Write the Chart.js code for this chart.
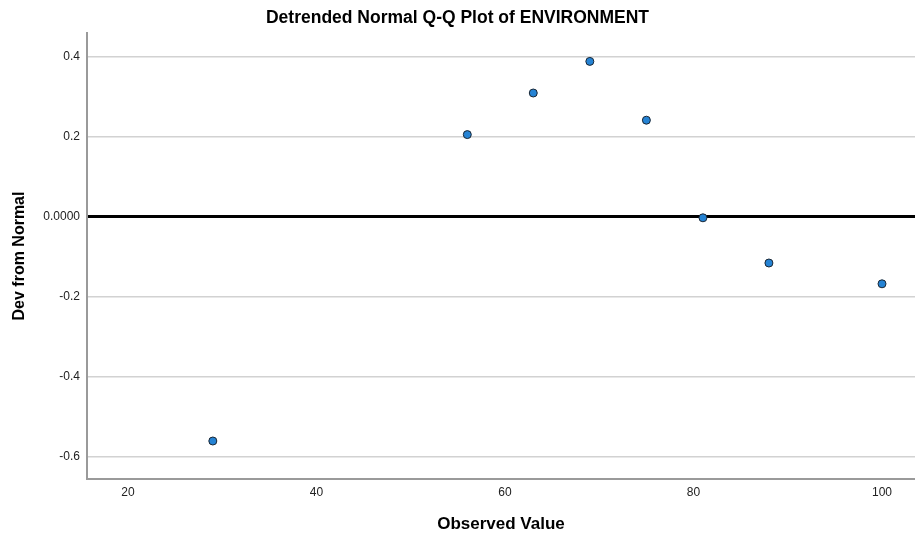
<!DOCTYPE html>
<html>
<head>
<meta charset="utf-8">
<script src="https://cdn.jsdelivr.net/npm/chart.js@4.4.0/dist/chart.umd.min.js"></script>
<style>
  html, body { margin: 0; padding: 0; background: #fff; overflow: hidden; }
  canvas { display: block; }
</style>
</head>
<body>
<canvas id="qqChart" width="915" height="535"></canvas>
<script>
// observed values and their deviation from normal
const observed = [29, 56, 63, 69, 75, 81, 88, 100];
const devFromNormal = [-0.561, 0.205, 0.309, 0.388, 0.241, -0.003, -0.116, -0.168];
const xTicks = [20, 40, 60, 80, 100];
const yTicks = [-0.6, -0.4, -0.2, 0, 0.2, 0.4];

const points = observed.map((x, i) => ({ x: x, y: devFromNormal[i] }));
const font = 'Arial, "Liberation Sans", sans-serif';

new Chart(document.getElementById('qqChart'), {
  type: 'scatter',
  data: {
    datasets: [{
      data: points,
      backgroundColor: '#2583d4',
      borderColor: '#1a2633',
      borderWidth: 1,
      pointRadius: 4,
      pointHoverRadius: 4
    }]
  },
  options: {
    responsive: false,
    animation: false,
    layout: { padding: 0, autoPadding: false },
    plugins: {
      legend: { display: false },
      tooltip: { enabled: false },
      title: {
        display: true,
        text: 'Detrended Normal Q-Q Plot of ENVIRONMENT',
        color: '#000',
        font: { family: font, size: 17.5, weight: 'bold' },
        padding: { top: 8, bottom: 4 }
      }
    },
    scales: {
      x: {
        type: 'linear',
        min: 15.65,
        max: 103.5,
        afterBuildTicks: axis => { axis.ticks = xTicks.map(v => ({ value: v })); },
        afterFit: axis => {
          axis.height = 56;
          axis.paddingLeft = 0;
          axis.paddingRight = 0;
        },
        grid: { display: false, drawTicks: false },
        border: { display: true, color: '#9a9a9a', width: 2 },
        ticks: {
          color: '#222',
          font: { family: font, size: 12 },
          padding: 6,
          maxRotation: 0
        },
        title: {
          display: true,
          text: 'Observed Value',
          color: '#000',
          font: { family: font, size: 17, weight: 'bold' },
          padding: { top: 4, bottom: 0 }
        }
      },
      y: {
        min: -0.656,
        max: 0.459,
        afterBuildTicks: axis => { axis.ticks = yTicks.map(v => ({ value: v })); },
        afterFit: axis => { axis.width = 87; },
        grid: {
          drawTicks: false,
          color: c => c.tick && c.tick.value === 0 ? '#000' : '#d2d2d2',
          lineWidth: c => c.tick && c.tick.value === 0 ? 3 : 1.5
        },
        border: { display: true, color: '#9a9a9a', width: 2 },
        ticks: {
          color: '#222',
          font: { family: font, size: 12 },
          padding: 7,
          callback: v => v === 0 ? '0.0000' : v.toFixed(1)
        },
        title: {
          display: true,
          text: 'Dev from Normal',
          color: '#000',
          font: { family: font, size: 16, weight: 'bold' },
          padding: { top: 10, bottom: 0 }
        }
      }
    }
  }
});
</script>
</body>
</html>
